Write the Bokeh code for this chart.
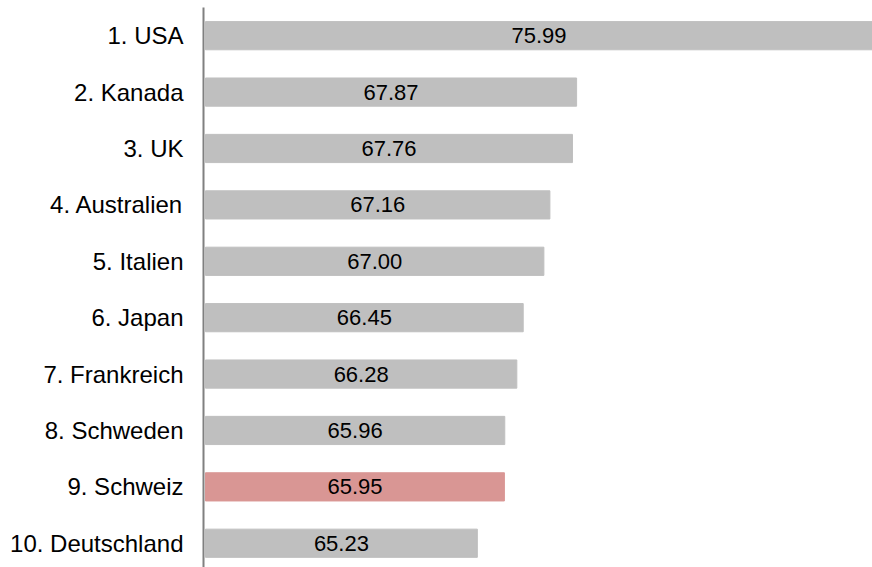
from bokeh.plotting import figure
from bokeh.models import ColumnDataSource, Range1d, LabelSet, FixedTicker
from bokeh.embed import file_html
from bokeh.resources import INLINE
from bokeh.core.properties import value

categories = ["1. USA", "2. Kanada", "3. UK", "4. Australien", "5. Italien",
              "6. Japan", "7. Frankreich", "8. Schweden", "9. Schweiz", "10. Deutschland"]
values = [75.99, 67.87, 67.76, 67.16, 67.00, 66.45, 66.28, 65.96, 65.95, 65.23]
highlight = "9. Schweiz"

bar_base = 58.0
x_min = 57.947
x_max = 75.74

positions = list(range(len(categories)))
bar_colors = ["#D99694" if c == highlight else "#BFBFBF" for c in categories]
label_x = [(bar_base + min(v, x_max)) / 2 for v in values]
label_text = [f"{v:.2f}" for v in values]

source = ColumnDataSource(dict(pos=positions, val=values, color=bar_colors,
                               lx=label_x, txt=label_text))

p = figure(x_range=Range1d(x_min, x_max),
           y_range=Range1d(len(categories) - 0.57, -0.5),
           width=872, height=567, output_backend="svg", toolbar_location=None,
           min_border_left=203, min_border_right=0, min_border_top=7, min_border_bottom=0)

p.hbar(y="pos", left=bar_base, right="val", height=0.5, color="color", source=source)

labels = LabelSet(x="lx", y="pos", text="txt", source=source, text_align="center",
                  text_baseline="middle", text_font=value("Liberation Sans"),
                  text_font_size="22px", text_color="#000000")
p.add_layout(labels)

p.xaxis.visible = False
p.xgrid.visible = False
p.ygrid.visible = False
p.outline_line_color = None

ax = p.yaxis[0]
ax.ticker = FixedTicker(ticks=positions)
ax.major_label_overrides = {i: c for i, c in enumerate(categories)}
ax.major_tick_line_color = None
ax.minor_tick_line_color = None
ax.axis_line_color = "#808080"
ax.axis_line_width = 2
ax.major_label_standoff = 14
ax.major_label_text_font = "Liberation Sans"
ax.major_label_text_font_size = "24px"
ax.major_label_text_color = "#000000"

open("out.html", "w").write(file_html(p, INLINE))
